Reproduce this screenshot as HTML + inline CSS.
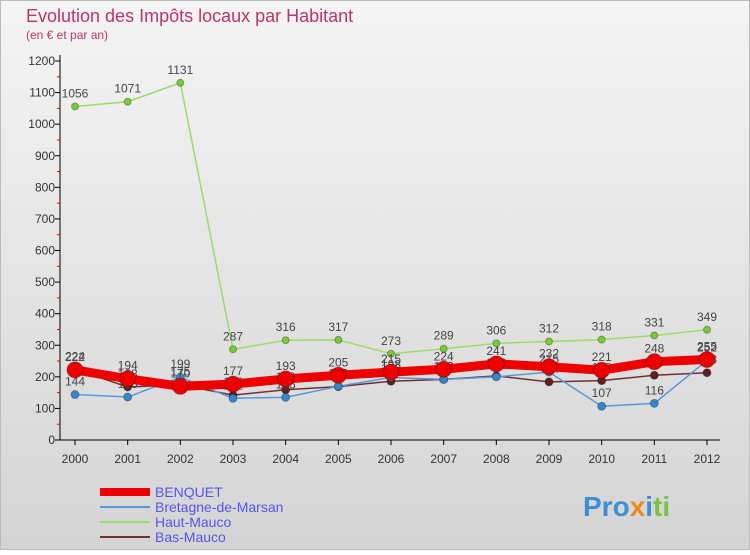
<!DOCTYPE html>
<html><head><meta charset="utf-8"><style>
body{margin:0;width:750px;height:550px;overflow:hidden;font-family:"Liberation Sans","DejaVu Sans",sans-serif}
</style></head><body>
<svg width="750" height="550" xmlns="http://www.w3.org/2000/svg">
<defs><linearGradient id="bg" x1="0" y1="0" x2="0" y2="1"><stop offset="0" stop-color="#f4f4f4"/><stop offset="1" stop-color="#d4d4d4"/></linearGradient></defs>
<rect width="750" height="550" fill="url(#bg)"/>
<rect x="0.5" y="0.5" width="749" height="549" fill="none" stroke="#bbb"/>
<text x="26" y="22" font-size="18" fill="#c0336a">Evolution des Impôts locaux par Habitant</text>
<text x="26" y="39" font-size="12" fill="#c0336a">(en € et par an)</text>
<g id="axes"></g><g id="series"></g><g id="legend"></g>
<g font-size="28" font-weight="bold">
<text x="583" y="516"><tspan fill="#3a8fd6">Pro</tspan><tspan fill="#f08a1a">x</tspan><tspan fill="#3a8fd6">i</tspan><tspan fill="#7cc242">ti</tspan></text></g>
</svg>
<script>
const years=[2000,2001,2002,2003,2004,2005,2006,2007,2008,2009,2010,2011,2012];
const yTicks=[0,100,200,300,400,500,600,700,800,900,1000,1100,1200];
const benquet=[222,194,170,177,193,205,215,224,241,232,221,248,255];
const bretagne=[144,136,199,132,135,170,198,192,200,215,107,116,252];
const hautMauco=[1056,1071,1131,287,316,317,273,289,306,312,318,331,349];
const basMauco=[224,168,175,142,159,169,186,192,203,184,188,205,213];
const NS="http://www.w3.org/2000/svg";
const X=i=>75+i*(707-75)/12, Y=v=>440-v*(440-61)/1200;
function el(t,a,p){const e=document.createElementNS(NS,t);for(const k in a)e.setAttribute(k,a[k]);p.appendChild(e);return e;}
const ax=document.getElementById('axes');
const yl=el('line',{x1:60,y1:55,x2:60,y2:440,stroke:'#000'},ax);


const xl=el('line',{x1:60,y1:440,x2:720,y2:440,stroke:'#000'},ax);


yTicks.forEach(v=>{
 el('line',{x1:55,y1:Y(v),x2:60,y2:Y(v),stroke:'#000'},ax);
 if(v<1200) el('line',{x1:57,y1:Y(v+50),x2:60,y2:Y(v+50),stroke:'#e00'},ax);
 const t=el('text',{x:55,y:Y(v)+4,'font-size':12,'text-anchor':'end',fill:'#333'},ax);t.textContent=v;
 
 
});
years.forEach((y,i)=>{
 el('line',{x1:X(i),y1:440,x2:X(i),y2:445,stroke:'#000'},ax);
 const t=el('text',{x:X(i),y:463,'font-size':12,'text-anchor':'middle',fill:'#333'},ax);t.textContent=y;
 
 
});
const sg=document.getElementById('series');
const series=[
 {n:'haut-mauco',d:hautMauco,c:'#99dd66',w:1.5,r:3.5,f:'#77cc33'},
 {n:'bas-mauco',d:basMauco,c:'#703030',w:1.5,r:4,f:'#602020'},
 {n:'bretagne-de-marsan',d:bretagne,c:'#5599dd',w:1.5,r:4,f:'#3388cc'},
 {n:'benquet',d:benquet,c:'#ee0000',w:9,r:8,f:'#ee0000'}];
series.forEach(s=>{
 const g=el('g',{},sg);
 
 
 const p=el('polyline',{points:s.d.map((v,i)=>X(i)+','+Y(v)).join(' '),fill:'none',stroke:s.c,'stroke-width':s.w},g);
 
 
 s.d.forEach((v,i)=>{
  const c=el('circle',{cx:X(i),cy:Y(v),r:s.r,fill:s.f,stroke:'rgba(0,0,0,0.3)'},g);
  
  
  const t=el('text',{x:X(i),y:Y(v)-9,'font-size':12,'text-anchor':'middle',fill:'#444'},g);t.textContent=v;
  
  
 });
});
const lg=document.getElementById('legend');
const leg=[['BENQUET','#ee0000',8],['Bretagne-de-Marsan','#5599dd',2],['Haut-Mauco','#99dd66',2],['Bas-Mauco','#703030',2]];
leg.forEach((l,i)=>{
 const y=492+i*15;
 const g=el('g',{},lg);
 
 
 el('line',{x1:100,y1:y,x2:150,y2:y,stroke:l[1],'stroke-width':l[2]},g);
 const t=el('text',{x:155,y:y+5,'font-size':14,fill:'#5555ee'},g);t.textContent=l[0];
});
</script>
</body></html>
